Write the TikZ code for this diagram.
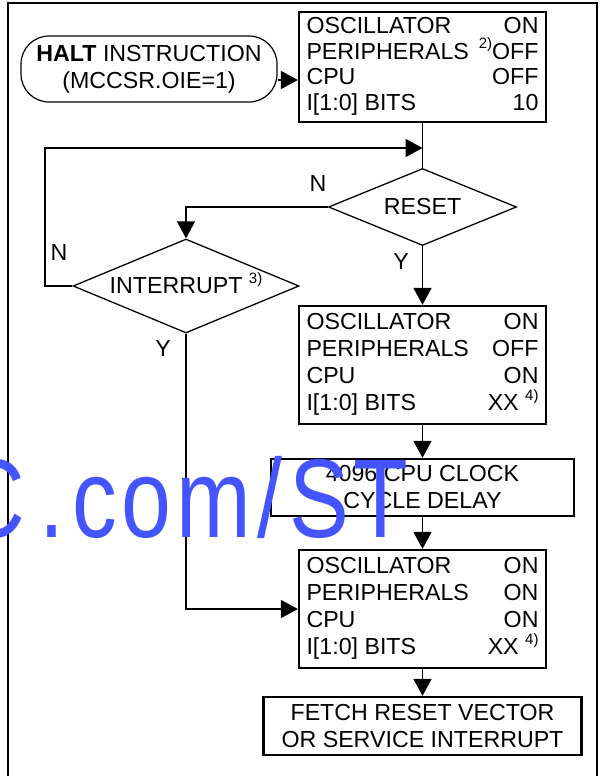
\documentclass[tikz,border=0pt]{standalone}
\usepackage{fontspec}
\setmainfont{Liberation Sans}
\usetikzlibrary{shapes.geometric, arrows.meta, positioning, calc}
\definecolor{markblue}{RGB}{68, 85, 255}
\tikzstyle{statebox} = [rectangle, draw, line width=1.15pt, minimum width=123.5pt,
                        minimum height=59pt, inner sep=0pt]
\tikzstyle{delaybox} = [rectangle, draw, line width=1.15pt, align=center, inner sep=0pt]
\tikzstyle{startbox} = [rectangle, rounded corners=14pt, draw, line width=0.6pt,
                        minimum width=128pt, minimum height=33pt, align=center, inner sep=0pt]
\tikzstyle{decision} = [diamond, draw, line width=0.65pt, aspect=2.4, inner sep=0pt]
\tikzstyle{arrow} = [-{Triangle[length=8.5pt, width=9pt]}, line width=0.85pt]
\tikzstyle{wire} = [line width=0.85pt]
\tikzstyle{outerframe} = [line width=1.15pt]
\newcommand{\fnote}[1]{\raisebox{0.85ex}[0pt][0pt]{\fontsize{7.5}{8}\selectfont #1}}
\newcommand{\statetab}[4]{%
  \begin{tabular*}{116pt}{@{}l@{\extracolsep{\fill}}r@{}}
    OSCILLATOR & #1\\
    PERIPHERALS & #2\\
    CPU & #3\\
    I[1:0] BITS & #4
  \end{tabular*}}

\begin{document}
\begin{tikzpicture}[x=0.5pt, y=-0.5pt, font=\fontsize{11.6}{13.5}\selectfont]

\useasboundingbox (0,0) rectangle (604,776);
\clip (0,0) rectangle (604,776);

% Frame
\draw[outerframe] (8,800) -- (8,3) -- (597,3) -- (597,800);

% Start
\node[startbox] (halt) at (149, 69) {\textbf{HALT} INSTRUCTION\\(MCCSR.OIE=1)};

% Halt state
\node[statebox, minimum height=55pt, font=\fontsize{11.6}{12.8}\selectfont] (halted) at (422.5, 67) {\statetab{ON}{\fnote{2)}OFF}{OFF}{10}};

% Decisions
\node[decision, minimum width=94pt, minimum height=38.5pt] (reset) at (422.5, 207) {RESET};
\node[decision, minimum width=113pt, minimum height=47pt] (interrupt) at (186, 286) {INTERRUPT \fnote{3)}};

% Wake-up states
\node[statebox] (woken) at (422.5, 365) {\statetab{ON}{OFF}{ON}{XX \fnote{4)}}};
\node[delaybox, minimum width=151.5pt, minimum height=28.5pt] (delay) at (422.5, 487.5) {4096 CPU CLOCK\\CYCLE DELAY};
\node[statebox] (running) at (422.5, 609) {\statetab{ON}{ON}{ON}{XX \fnote{4)}}};
\node[delaybox, minimum width=159pt, minimum height=29pt] (fetch) at (422.5, 726) {FETCH RESET VECTOR\\OR SERVICE INTERRUPT};

% Labels
\node (resetno) at (318, 184) {N};
\node (resetyes) at (401, 262) {Y};
\node (intno) at (59, 253) {N};
\node (intyes) at (163, 349) {Y};

% Corners
\coordinate (haltout) at ([yshift=-5.5pt]halt.east);
\coordinate (loopin) at (422.5, 148);
\coordinate (loopcorner) at (45, 148);

% Arrows
\draw[arrow] (haltout) -- (haltout -| halted.west);
\draw[wire] (halted.south) -- (reset.north);
\draw[arrow] (interrupt.west) -| (loopcorner) -- (loopin);
\draw[arrow] (reset.west) -| (interrupt.north);
\draw[arrow] (reset.south) -- (woken.north);
\draw[arrow] (interrupt.south) |- (running.west);
\draw[arrow] (woken.south) -- (delay.north);
\draw[arrow] (delay.south) -- (running.north);
\draw[arrow] (running.south) -- (fetch.north);

% Watermark
\node[anchor=base east, inner sep=0pt, text=markblue, font=\fontsize{56}{56}\selectfont] (mark) at (409, 537)
  {\scalebox{0.8}[1]{C\kern9pt.\kern5pt c\kern3.1pt o\kern3.1pt m\kern4pt/\kern4pt S\kern3.1pt T}};

\end{tikzpicture}
\end{document}
